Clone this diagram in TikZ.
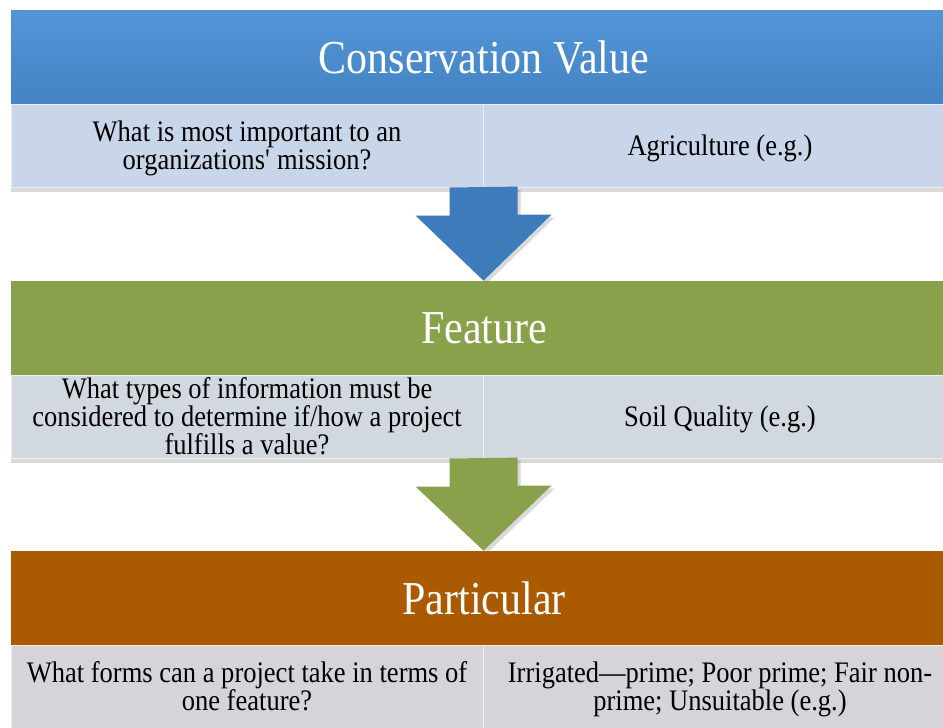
\documentclass[tikz,border=0pt]{standalone}
\usepackage{fontspec}
\setmainfont{Liberation Serif}[FakeStretch=0.89]
\usetikzlibrary{shadows}

\definecolor{valblue}{HTML}{4A8FD5}
\definecolor{arrblue}{HTML}{3D7BBA}
\definecolor{featgreen}{HTML}{8AA14C}
\definecolor{partbrown}{HTML}{AA5A00}
\definecolor{valrow}{HTML}{C9D5E8}
\definecolor{featrow}{HTML}{D1D8E0}
\definecolor{partrow}{HTML}{D6D4D9}

\begin{document}
\begin{tikzpicture}[x=0.5pt, y=-0.5pt,
    head/.style={minimum width=473pt, minimum height=47pt, inner sep=0pt,
      text=white, font=\fontsize{23.6}{26}\selectfont,
      drop shadow={opacity=.25, shadow xshift=0pt, shadow yshift=-1.5pt}},
    cell/.style={minimum height=41.5pt, inner sep=0pt, align=center, text depth=0pt,
      draw=white!60!#1, fill=#1, line width=.5pt,
      font=\fontsize{14.9}{14}\selectfont,
      drop shadow={opacity=.3, shadow xshift=0pt, shadow yshift=-2.5pt}},
    lcell/.style={cell=#1, minimum width=236pt},
    rcell/.style={cell=#1, minimum width=237pt},
    bigarrow/.style={fill=#1,
      drop shadow={opacity=.3, shadow xshift=1.5pt, shadow yshift=-1.5pt}}]
  \useasboundingbox (0,0) rectangle (943,728);
  \clip (0,0) rectangle (943,728);

  \node[head, top color=valblue!95!white, bottom color=valblue!92!black] (value) at (484,57) {Conservation Value};
  \node[lcell=valrow] (valQ) at (247,145.5) {What is most important to an\\organizations\textquotesingle{} mission?};
  \node[rcell=valrow] (valEx) at (720,145.5) {Agriculture (e.g.)};

  \node[head, fill=featgreen] (feature) at (484,328) {Feature};
  \node[lcell=featrow] (featQ) at (247,416.5) {What types of information must be\\considered to determine if/how a project\\fulfills a value?};
  \node[rcell=featrow] (featEx) at (720,416.5) {Soil Quality (e.g.)};

  \node[head, fill=partbrown] (part) at (484,598) {Particular};
  \node[lcell=partrow] (partQ) at (247,686.5) {What forms can a project take in terms of\\one feature?};
  \node[rcell=partrow] (partEx) at (720,686.5) {Irrigated—prime; Poor prime; Fair non-\\prime; Unsuitable (e.g.)};

  % block arrows between the levels
  \fill[bigarrow=arrblue] (valQ.south east) ++(-34,0) -- ++(0,28) -- ++(-34,0)
    -- (valQ.south east |- feature.north) -- ++(68,-66) -- ++(-34,0) -- ++(0,-28) -- cycle;
  \fill[bigarrow=featgreen] (featQ.south east) ++(-34,0) -- ++(0,28) -- ++(-34,0)
    -- (featQ.south east |- part.north) -- ++(68,-65) -- ++(-34,0) -- ++(0,-28) -- cycle;
\end{tikzpicture}
\end{document}
